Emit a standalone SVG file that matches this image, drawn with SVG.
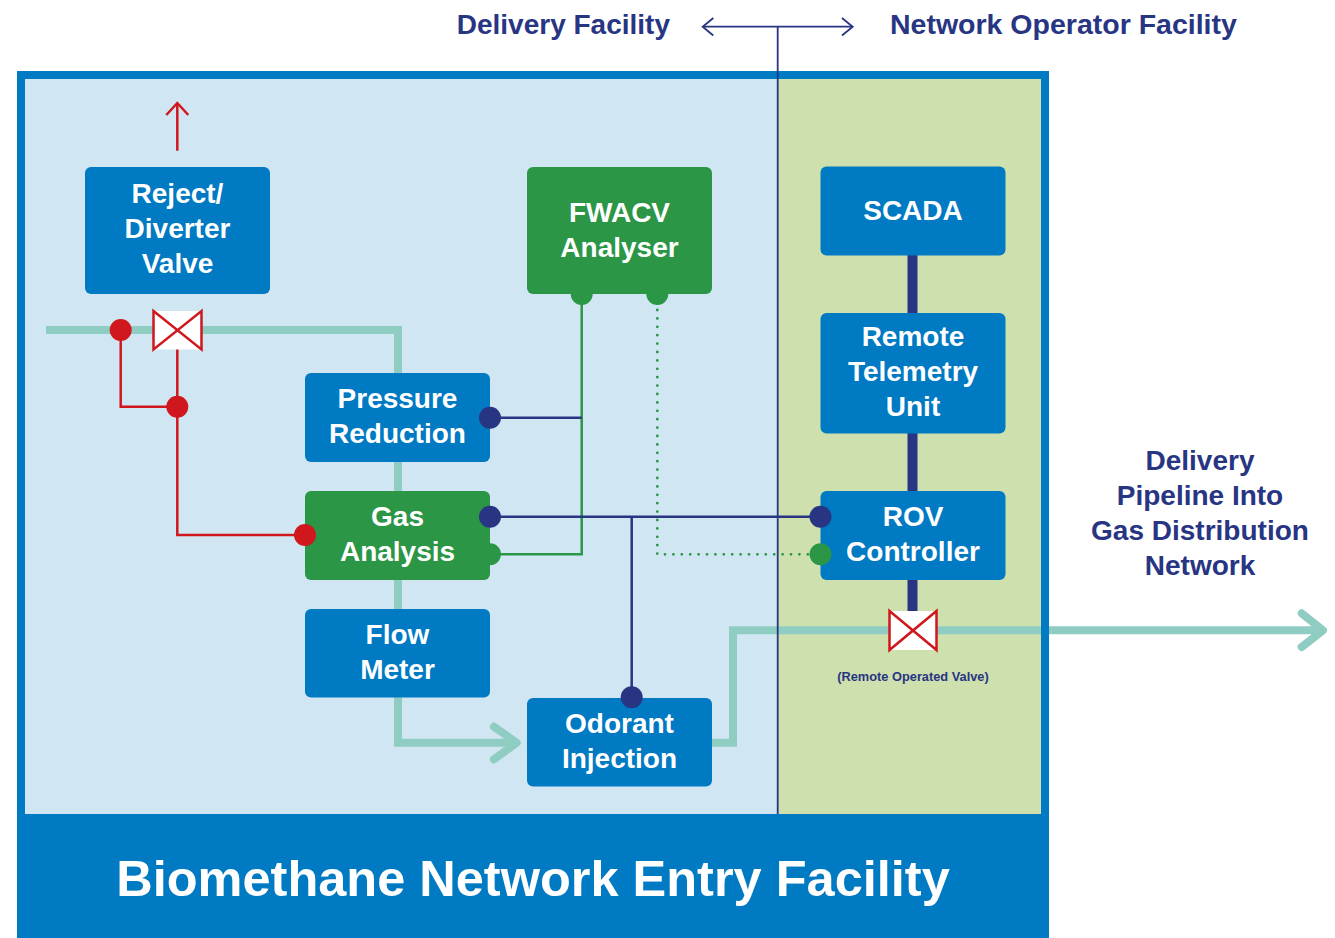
<svg xmlns="http://www.w3.org/2000/svg" width="1335" height="938" viewBox="0 0 1335 938">
<style>
.node{fill:#007ac3}
.gnode{fill:#2a9646}
.nt{font-family:"Liberation Sans",Arial,sans-serif;font-weight:bold;font-size:28px;fill:#ffffff;text-anchor:middle}
.lbl{font-family:"Liberation Sans",Arial,sans-serif;font-weight:bold;fill:#283583}
.pipe{fill:none;stroke:#8fcdc2;stroke-width:8}
.pipeh{fill:none;stroke:#8fcdc2;stroke-width:8;stroke-linecap:round;stroke-linejoin:round}
.red{fill:none;stroke:#d0171e;stroke-width:2.5}
.navy{fill:none;stroke:#283583;stroke-width:2.5}
.navyT{fill:none;stroke:#283583;stroke-width:10}
.grn{fill:none;stroke:#2a9646;stroke-width:2.5}
.gdot{fill:none;stroke:#2a9646;stroke-width:2.8;stroke-dasharray:0 8.4;stroke-linecap:round}
.thin{fill:none;stroke:#283583;stroke-width:1.8}
.valve{fill:#ffffff;stroke:#d0171e;stroke-width:2.5}
</style>
<rect x="0" y="0" width="1335" height="938" fill="#ffffff"/>
<g id="background">
<rect x="25" y="79" width="753" height="736" fill="#d0e7f3"/>
<rect x="778" y="79" width="263" height="736" fill="#cde0ae"/>
</g>
<g id="pipes">
<path class="pipe" d="M46,330 H398 V742.7 H510"/>
<path class="pipeh" d="M494,726.7 L516.7,742.7 L494,759.3"/>
<path class="pipe" d="M712,742.7 H733 V630.3 H1318"/>
<path class="pipeh" d="M1301.7,613.3 L1323,630.3 L1301.7,647"/>
</g>
<g id="frame">
<rect x="21" y="75" width="1024" height="745" fill="none" stroke="#007ac3" stroke-width="8"/>
<rect x="17" y="814" width="1032" height="124" fill="#007ac3"/>
<text x="533" y="896" font-family="'Liberation Sans',Arial,sans-serif" font-weight="bold" font-size="50.5" fill="#ffffff" text-anchor="middle">Biomethane Network Entry Facility</text>
</g>
<g id="connectors">
<path class="thin" d="M777.7,26.7 V814"/>
<path class="thin" d="M703,26.7 H852.5"/>
<path class="thin" d="M713.3,18 L702.7,26.7 L713.3,35.5"/>
<path class="thin" d="M842,18 L852.7,26.7 L842,35.5"/>
<path class="red" d="M177.3,150.7 V104"/>
<path class="red" d="M166.3,115 L177.3,103 L188.3,115"/>
<path class="red" d="M120.7,330 V406.7 H177.3"/>
<path class="red" d="M177.3,349 V535 H305"/>
<path class="grn" d="M581.7,294 V554.3 H490"/>
<path class="gdot" d="M657.3,310 V554.3 H815"/>
<path class="navy" d="M490,417.7 H581.7"/>
<path class="navy" d="M490,516.7 H820"/>
<path class="navy" d="M631.7,516.7 V697.3"/>
<path class="navyT" d="M912.5,255 V313"/>
<path class="navyT" d="M912.5,433 V491"/>
<path class="navyT" d="M912.5,580 V612"/>
</g>
<g id="valve-diverter">
<rect x="153.5" y="311" width="48" height="38.5" fill="#ffffff"/>
<path class="valve" d="M153.5,311 L201.5,349.5 L201.5,311 L153.5,349.5 Z" fill="none"/>
</g>
<g id="valve-rov">
<rect x="889.5" y="611" width="47" height="39" fill="#ffffff"/>
<path class="valve" d="M889.5,611 L936.5,650 L936.5,611 L889.5,650 Z" fill="none"/>
<text x="913" y="681" font-family="'Liberation Sans',Arial,sans-serif" font-weight="bold" font-size="12.8" fill="#283583" text-anchor="middle">(Remote Operated Valve)</text>
</g>
<g id="node-reject">
<rect class="node" x="85" y="167" width="185" height="127" rx="6"/>
<text class="nt" x="177.5" y="203">Reject/</text>
<text class="nt" x="177.5" y="238">Diverter</text>
<text class="nt" x="177.5" y="273">Valve</text>
</g>
<g id="node-fwacv">
<rect class="gnode" x="527" y="167" width="185" height="127" rx="6"/>
<text class="nt" x="619.5" y="221.5">FWACV</text>
<text class="nt" x="619.5" y="256.5">Analyser</text>
</g>
<g id="node-pressure">
<rect class="node" x="305" y="373" width="185" height="89" rx="6"/>
<text class="nt" x="397.5" y="408">Pressure</text>
<text class="nt" x="397.5" y="443">Reduction</text>
</g>
<g id="node-gas">
<rect class="gnode" x="305" y="491" width="185" height="89" rx="6"/>
<text class="nt" x="397.5" y="526">Gas</text>
<text class="nt" x="397.5" y="561">Analysis</text>
</g>
<g id="node-flow">
<rect class="node" x="305" y="609" width="185" height="88.5" rx="6"/>
<text class="nt" x="397.5" y="644">Flow</text>
<text class="nt" x="397.5" y="679">Meter</text>
</g>
<g id="node-odorant">
<rect class="node" x="527" y="698" width="185" height="88.5" rx="6"/>
<text class="nt" x="619.5" y="733">Odorant</text>
<text class="nt" x="619.5" y="768">Injection</text>
</g>
<g id="node-scada">
<rect class="node" x="820.5" y="166.5" width="185" height="89" rx="6"/>
<text class="nt" x="913" y="220">SCADA</text>
</g>
<g id="node-rtu">
<rect class="node" x="820.5" y="313" width="185" height="120.5" rx="6"/>
<text class="nt" x="913" y="346">Remote</text>
<text class="nt" x="913" y="381">Telemetry</text>
<text class="nt" x="913" y="416">Unit</text>
</g>
<g id="node-rov">
<rect class="node" x="820.5" y="491" width="185" height="89" rx="6"/>
<text class="nt" x="913" y="526">ROV</text>
<text class="nt" x="913" y="561">Controller</text>
</g>
<g id="ports">
<circle cx="120.7" cy="330" r="11" fill="#d0171e"/>
<circle cx="177.3" cy="406.7" r="11" fill="#d0171e"/>
<circle cx="305" cy="535" r="11" fill="#d0171e"/>
<circle cx="581.7" cy="294" r="11" fill="#2a9646"/>
<circle cx="657.3" cy="294" r="11" fill="#2a9646"/>
<circle cx="490" cy="417.7" r="11" fill="#283583"/>
<circle cx="490" cy="516.7" r="11" fill="#283583"/>
<circle cx="490" cy="554.3" r="11" fill="#2a9646"/>
<circle cx="820.5" cy="516.7" r="11" fill="#283583"/>
<circle cx="820.5" cy="554.3" r="11" fill="#2a9646"/>
<circle cx="631.7" cy="697.3" r="11" fill="#283583"/>
</g>
<g id="labels">
<text class="lbl" x="670" y="34" font-size="28" text-anchor="end">Delivery Facility</text>
<text class="lbl" x="890" y="34" font-size="28.5">Network Operator Facility</text>
<text class="lbl" x="1200" y="470" font-size="28" text-anchor="middle">Delivery</text>
<text class="lbl" x="1200" y="505" font-size="28" text-anchor="middle">Pipeline Into</text>
<text class="lbl" x="1200" y="540" font-size="28" text-anchor="middle">Gas Distribution</text>
<text class="lbl" x="1200" y="575" font-size="28" text-anchor="middle">Network</text>
</g>
</svg>
